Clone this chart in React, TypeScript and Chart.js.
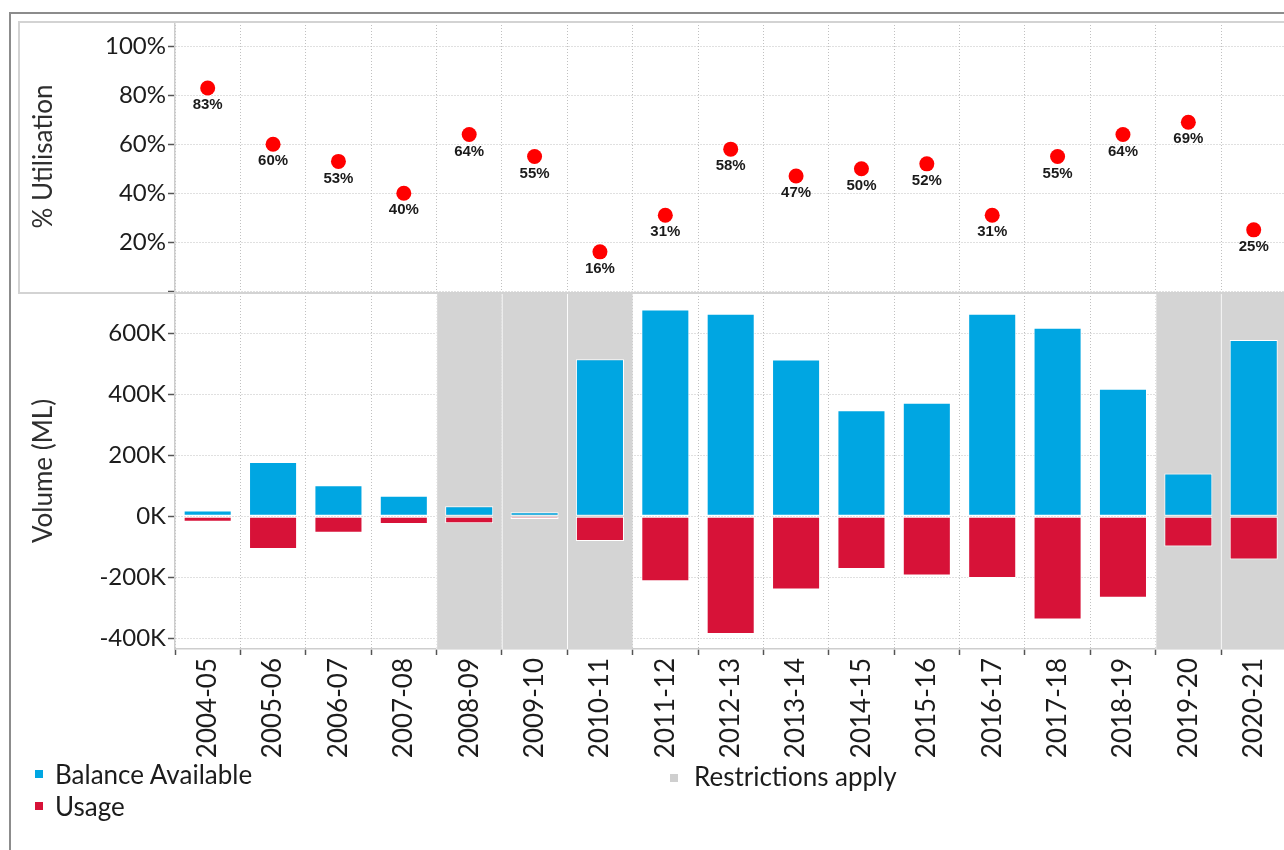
import React, { useEffect, useRef } from 'react';
import { Chart, registerables } from 'chart.js';

Chart.register(...registerables);

// ---------- data ----------
const categories = [
  '2004-05', '2005-06', '2006-07', '2007-08', '2008-09', '2009-10', '2010-11', '2011-12', '2012-13',
  '2013-14', '2014-15', '2015-16', '2016-17', '2017-18', '2018-19', '2019-20', '2020-21',
];
const utilisation = [83, 60, 53, 40, 64, 55, 16, 31, 58, 47, 50, 52, 31, 55, 64, 69, 25];
const balanceAvailable = [
  19000, 178000, 102000, 67000, 33000, 13000, 515000, 678000, 664000,
  514000, 348000, 372000, 664000, 618000, 418000, 140000, 578000,
];
const usage = [
  -18000, -107000, -54000, -25000, -23000, -9000, -81000, -213000, -386000,
  -240000, -173000, -194000, -202000, -338000, -267000, -99000, -142000,
];
const restrictionsApply = [
  false, false, false, false, true, true, true, false, false,
  false, false, false, false, false, false, true, true,
];
const utilisationTicks = [0, 10, 20, 30, 40, 50, 60, 70, 80, 90, 100, 110];
const utilisationLabels = [20, 40, 60, 80, 100];
const volumeTicks = [-400000, -200000, 0, 200000, 400000, 600000];

// ---------- styles ----------
const FONT = 'Lato, "Open Sans", sans-serif';
const TEXT = '#1c1c1c';
const TITLE = '#2e2e2e';
const GRID = '#c0c0c0';
const AXIS = '#cdcdcd';
const TICK = '#555555';
const BLUE = '#00a6e2';
const RED = '#d71238';
const GRAY = '#d4d4d4';
const DOT = '#ff0000';

const PLOT_LEFT = 175;
const CANVAS_W = 1290;
const PAD_RIGHT = 3.6;
const TOP_CANVAS_TOP = 22;
const TOP_CANVAS_H = 271;
const BOT_CANVAS_TOP = 293;
const BOT_CANVAS_H = 470;
const BOT_PLOT_H = 356;

const pctLabelPlugin = {
  id: 'pctLabels',
  afterDatasetsDraw(chart: any) {
    const meta = chart.getDatasetMeta(0);
    const ctx = chart.ctx;
    ctx.save();
    ctx.font = 'bold 15px "Liberation Sans", Arial, sans-serif';
    ctx.fillStyle = '#1a1a1a';
    ctx.textAlign = 'center';
    ctx.textBaseline = 'middle';
    meta.data.forEach((pt: any, i: number) => {
      ctx.fillText(`${utilisation[i]}%`, pt.x, pt.y + 17);
    });
    ctx.restore();
  },
};

export default function App() {
  const topRef = useRef<HTMLCanvasElement>(null);
  const botRef = useRef<HTMLCanvasElement>(null);

  useEffect(() => {
    const fixY = (s: any) => {
      s.width = PLOT_LEFT;
      s.paddingTop = 0;
      s.paddingBottom = 0;
    };

    const top = new Chart(topRef.current as HTMLCanvasElement, {
      type: 'line',
      data: {
        labels: categories,
        datasets: [
          {
            data: utilisation,
            showLine: false,
            pointRadius: 7.5,
            pointHoverRadius: 7.5,
            pointBorderWidth: 0,
            pointBackgroundColor: DOT,
            backgroundColor: DOT,
            borderColor: DOT,
          },
        ],
      },
      options: {
        responsive: false,
        animation: false,
        events: [],
        layout: { autoPadding: false, padding: { left: 0, right: PAD_RIGHT, top: 0, bottom: 2 } },
        plugins: { legend: { display: false }, tooltip: { enabled: false } },
        scales: {
          x: {
            type: 'category',
            offset: true,
            grid: { offset: true, color: GRID, lineWidth: 1, drawTicks: false },
            border: { display: false, dash: [1, 2] },
            ticks: { display: false },
            afterFit: (s: any) => {
              s.height = 0;
              s.paddingLeft = 0;
              s.paddingRight = 0;
            },
          },
          y: {
            min: 0,
            max: 110,
            afterBuildTicks: (s: any) => {
              s.ticks = utilisationTicks.map((v) => ({ value: v }));
            },
            ticks: {
              padding: 2,
              color: TEXT,
              font: { family: FONT, size: 24 },
              callback: (v: any) => (utilisationLabels.includes(Number(v)) ? `${v}%` : ''),
            },
            grid: {
              color: GRID,
              lineWidth: 1,
              tickColor: TICK,
              tickLength: 7,
              tickWidth: 1.5,
              tickBorderDash: [],
            },
            border: { color: AXIS, width: 1.5, dash: [1, 2] },
            title: {
              display: true,
              text: '% Utilisation',
              color: TITLE,
              font: { family: FONT, size: 26 },
              padding: { top: 28, bottom: 0 },
            },
            afterFit: fixY,
          },
        },
      },
      plugins: [pctLabelPlugin],
    } as any);

    const bot = new Chart(botRef.current as HTMLCanvasElement, {
      type: 'bar',
      data: {
        labels: categories,
        datasets: [
          {
            label: 'Balance Available',
            data: balanceAvailable,
            backgroundColor: BLUE,
            borderColor: '#ffffff',
            borderWidth: 1,
            borderSkipped: false,
            stack: 'vol',
            order: 1,
          },
          {
            label: 'Usage',
            data: usage,
            backgroundColor: RED,
            borderColor: '#ffffff',
            borderWidth: 1,
            borderSkipped: false,
            stack: 'vol',
            order: 1,
          },
          {
            label: 'Restrictions apply',
            data: restrictionsApply.map((r) => (r ? 1 : null)),
            yAxisID: 'yR',
            grouped: false,
            backgroundColor: GRAY,
            borderColor: '#ffffff',
            borderWidth: { left: 1, right: 0, top: 0, bottom: 0 },
            borderSkipped: false,
            barPercentage: 1,
            categoryPercentage: 1,
            order: 10,
          },
        ],
      },
      options: {
        responsive: false,
        animation: false,
        events: [],
        layout: { autoPadding: false, padding: { left: 0, right: PAD_RIGHT, top: 0, bottom: 0 } },
        datasets: { bar: { categoryPercentage: 1, barPercentage: 0.735 } },
        plugins: { legend: { display: false }, tooltip: { enabled: false } },
        scales: {
          x: {
            stacked: true,
            offset: true,
            grid: {
              offset: true,
              color: GRID,
              lineWidth: 1,
              tickColor: TICK,
              tickLength: 6,
              tickWidth: 1.5,
              tickBorderDash: [],
            },
            border: { color: AXIS, width: 1.5, dash: [1, 2] },
            ticks: {
              minRotation: 90,
              maxRotation: 90,
              autoSkip: false,
              padding: 3,
              color: TEXT,
              font: { family: FONT, size: 26 },
            },
            afterFit: (s: any) => {
              s.height = BOT_CANVAS_H - BOT_PLOT_H;
              s.paddingLeft = 0;
              s.paddingRight = 0;
            },
          },
          y: {
            stacked: true,
            min: -435000,
            max: 732000,
            afterBuildTicks: (s: any) => {
              s.ticks = volumeTicks.map((v) => ({ value: v }));
            },
            ticks: {
              padding: 2,
              color: TEXT,
              font: { family: FONT, size: 24 },
              callback: (v: any) => `${Number(v) / 1000}K`,
            },
            grid: {
              color: GRID,
              lineWidth: 1,
              tickColor: TICK,
              tickLength: 7,
              tickWidth: 1.5,
              tickBorderDash: [],
            },
            border: { color: AXIS, width: 1.5, dash: [1, 2] },
            title: {
              display: true,
              text: 'Volume (ML)',
              color: TITLE,
              font: { family: FONT, size: 26 },
              padding: { top: 28, bottom: 0 },
            },
            afterFit: fixY,
          },
          yR: { display: false, min: 0, max: 1 },
        },
      },
    } as any);

    return () => {
      top.destroy();
      bot.destroy();
    };
  }, []);

  const legendText: React.CSSProperties = {
    position: 'absolute',
    fontFamily: FONT,
    fontSize: 26,
    lineHeight: 1.2,
    color: TEXT,
    whiteSpace: 'nowrap',
  };
  const sq = (left: number, top: number, color: string): React.CSSProperties => ({
    position: 'absolute',
    left,
    top,
    width: 8,
    height: 8,
    background: color,
  });

  return (
    <div
      style={{
        position: 'fixed',
        left: 0,
        top: 0,
        width: 1284,
        height: 850,
        overflow: 'hidden',
        background: '#ffffff',
      }}
    >
      <div
        style={{
          position: 'absolute',
          left: 9,
          top: 12,
          width: 1400,
          height: 1000,
          border: '2px solid #8c8c8c',
        }}
      />
      <canvas
        ref={topRef}
        width={CANVAS_W}
        height={TOP_CANVAS_H}
        style={{ position: 'absolute', left: 0, top: TOP_CANVAS_TOP, width: CANVAS_W, height: TOP_CANVAS_H }}
      />
      <canvas
        ref={botRef}
        width={CANVAS_W}
        height={BOT_CANVAS_H}
        style={{ position: 'absolute', left: 0, top: BOT_CANVAS_TOP, width: CANVAS_W, height: BOT_CANVAS_H }}
      />
      <div
        style={{
          position: 'absolute',
          left: 18,
          top: 21,
          width: 1400,
          height: 269,
          border: '2px solid #d3d3d3',
          pointerEvents: 'none',
        }}
      />
      <div style={sq(35, 770, BLUE)} />
      <div style={{ ...legendText, left: 55, top: 759 }}>Balance Available</div>
      <div style={sq(35, 802, RED)} />
      <div style={{ ...legendText, left: 55, top: 791 }}>Usage</div>
      <div style={sq(670, 774, '#cfcfcf')} />
      <div style={{ ...legendText, left: 694, top: 761 }}>Restrictions apply</div>
    </div>
  );
}
